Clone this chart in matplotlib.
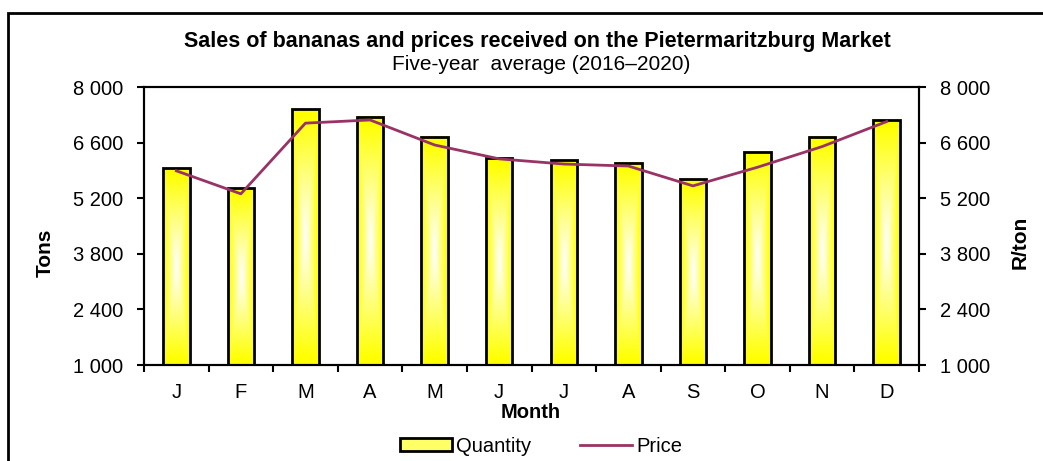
import numpy as np
import matplotlib
matplotlib.use("Agg")
import matplotlib.pyplot as plt
from matplotlib.patches import Rectangle
from matplotlib.lines import Line2D

plt.rcParams['font.family'] = ['Liberation Sans', 'DejaVu Sans']

# data
months = ['J', 'F', 'M', 'A', 'M', 'J', 'J', 'A', 'S', 'O', 'N', 'D']
quantity = [5950, 5450, 7440, 7250, 6750, 6200, 6160, 6090, 5680, 6370, 6750, 7170]
price = [5890, 5310, 7090, 7170, 6540, 6190, 6060, 6010, 5510, 5980, 6500, 7130]
yticks = [1000, 2400, 3800, 5200, 6600, 8000]

W, H = 1043, 461
fig = plt.figure(figsize=(W / 100, H / 100), dpi=100)
ax = fig.add_axes([144 / W, 1 - 365 / H, (919 - 144) / W, (365 - 87) / H])
ax2 = ax.twinx()

x = np.arange(len(months))
width = 0.41

# rectangular gradient (yellow at edges, white in centre)
u = np.linspace(-1, 1, 60)
v = np.linspace(-1, 1, 200)
U, V = np.meshgrid(u, v)
t = np.clip(np.maximum(np.abs(U), np.abs(V)) * 1.05, 0, 1)
grad = np.ones((200, 60, 3))
grad[..., 2] = 1 - t

for xi, q in zip(x, quantity):
    ax.imshow(grad, extent=[xi - width / 2, xi + width / 2, 1000, q],
              aspect='auto', zorder=2, interpolation='bilinear')
ax.bar(x, np.array(quantity) - 1000, width=width, bottom=1000, color='none',
       edgecolor='black', linewidth=2, zorder=3)

ax.set_xlim(-0.5, len(months) - 0.5)
ax.set_ylim(1000, 8000)
ax2.set_ylim(1000, 8000)

ax2.plot(x, price, color='#993366', linewidth=2, zorder=4)

fmt = lambda v: f"{v:,}".replace(',', ' ')
fs = 14.5
ax.set_yticks(yticks)
ax.set_yticklabels([fmt(v) for v in yticks], fontsize=fs)
ax2.set_yticks(yticks)
ax2.set_yticklabels([fmt(v) for v in yticks], fontsize=fs)

ax.set_xticks(np.arange(-0.5, len(months)), [''] * (len(months) + 1))
ax.set_xticks(x, months, minor=True)
ax.tick_params(axis='x', which='major', direction='out', length=5, width=1.5)
ax.tick_params(axis='x', which='minor', length=0, labelsize=fs, pad=13)
ax.tick_params(axis='y', direction='out', length=5, width=1.5, pad=10)
ax2.tick_params(axis='y', direction='out', length=5, width=1.5, pad=10)

for a in (ax, ax2):
    for s in a.spines.values():
        s.set_linewidth(1.5)

fig.text(531 / W, 1 - 412 / H, 'Month', ha='center', va='center',
         fontsize=fs, fontweight='bold')
fig.text(45 / W, 1 - 253 / H, 'Tons', ha='center', va='center', rotation=90,
         fontsize=15, fontweight='bold')
fig.text(1020 / W, 1 - 242 / H, 'R/ton', ha='center', va='center', rotation=90,
         fontsize=15, fontweight='bold')

fig.text(537 / W, 1 - 41 / H, 'Sales of bananas and prices received on the Pietermaritzburg Market',
         ha='center', va='center', fontsize=15.5, fontweight='bold')
fig.text(541 / W, 1 - 64 / H, 'Five-year  average (2016\u20132020)',
         ha='center', va='center', fontsize=15)

# legend
qty_handle = Rectangle((0, 0), 1, 1, facecolor='#ffff66', edgecolor='black', linewidth=2)
price_handle = Line2D([0], [0], color='#993366', linewidth=2)
fig.legend([qty_handle, price_handle], ['Quantity', 'Price'], loc='center',
           bbox_to_anchor=(541 / W, 1 - 446 / H), ncol=2, frameon=False, fontsize=fs,
           handlelength=2.6, handleheight=0.6, handletextpad=0.2, columnspacing=2.4)

# outer chart frame
fig.patches.append(Rectangle((8 / W, -0.1), 1.2, 1 - 13 / H + 0.1,
                             transform=fig.transFigure, fill=False,
                             edgecolor='black', linewidth=2))

fig.savefig('out.png', dpi=100, facecolor='white')
